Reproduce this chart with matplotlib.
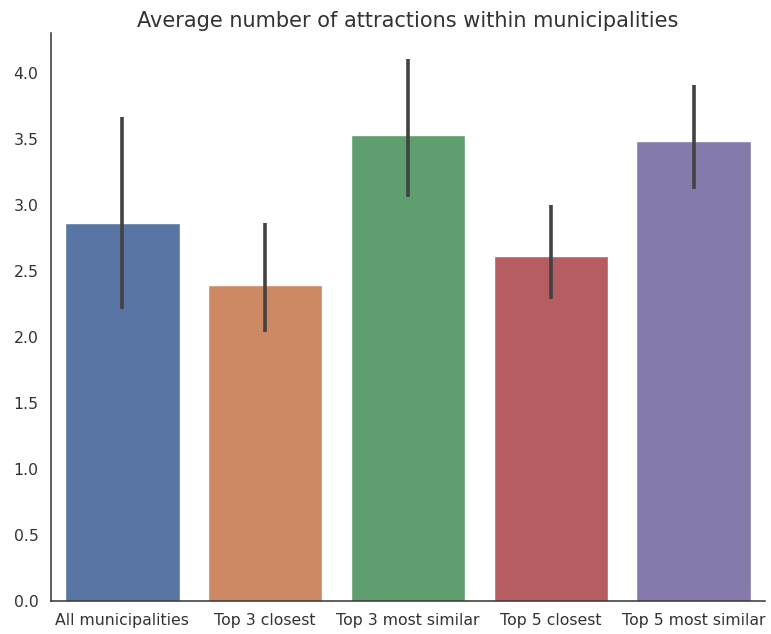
import matplotlib
matplotlib.use("Agg")
import matplotlib.pyplot as plt
import seaborn as sns

categories = ["All municipalities", "Top 3 closest", "Top 3 most similar", "Top 5 closest", "Top 5 most similar"]
means = [2.86, 2.39, 3.525, 2.615, 3.48]
ci_low = [2.21, 2.035, 3.06, 2.29, 3.12]
ci_high = [3.665, 2.865, 4.10, 3.00, 3.91]

sns.set_style("white")
plt.rcParams['font.family'] = ['DejaVu Sans']

colors = [sns.desaturate(c, 0.75) for c in sns.color_palette("deep", 5)]

fig = plt.figure(figsize=(7.71, 6.34), dpi=100)
ax = fig.add_axes([51/771, 33/634, (765-51)/771, (601-33)/634])
x = list(range(len(categories)))
ax.bar(x, means, width=0.8, color=colors)
ax.vlines(x, ci_low, ci_high, color=".26", linewidth=2.6, zorder=3)
ax.set_xlim(-0.5, 4.5)
ax.set_ylim(0, 4.3)
ax.set_yticks([0, 0.5, 1.0, 1.5, 2.0, 2.5, 3.0, 3.5, 4.0])
ax.set_xticks(x)
ax.set_xticklabels(categories, fontsize=11.3, color=".2")
ax.tick_params(axis="y", labelsize=11.3, labelcolor=".2", length=0, pad=9)
ax.tick_params(axis="x", length=0, pad=9)
ax.set_title("Average number of attractions within municipalities", fontsize=15, color=".2", pad=4)
for s in ax.spines.values():
    s.set_color(".2")
    s.set_linewidth(1.1)
sns.despine(ax=ax)
fig.savefig("out.png", dpi=100)
